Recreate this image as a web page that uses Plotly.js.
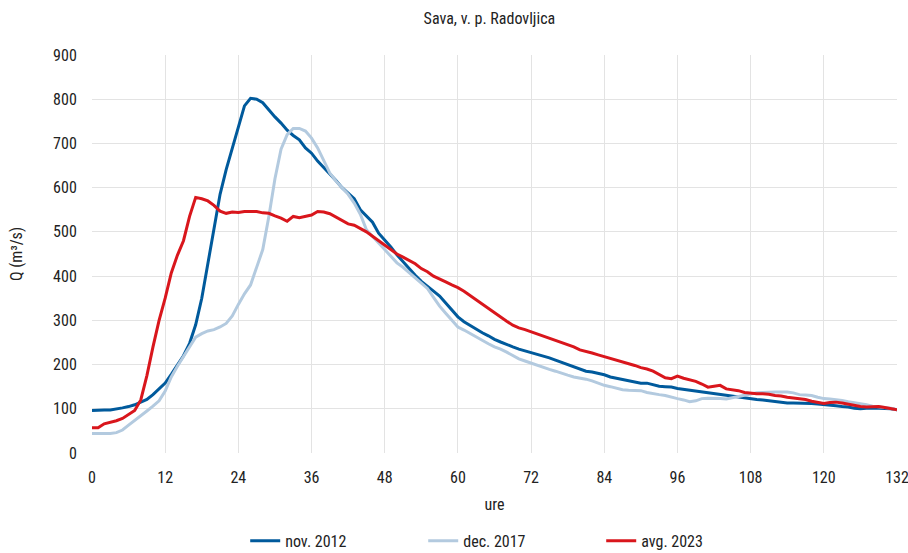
<!DOCTYPE html>
<html>
<head>
<meta charset="utf-8">
<script src="https://cdn.plot.ly/plotly-3.0.1.min.js"></script>
<style>
  html, body { margin: 0; padding: 0; background: #fff; }
  #chart { width: 908px; height: 553px; }
</style>
</head>
<body>
<div id="chart"></div>
<script>
// Hourly discharge (m³/s) at Sava, v. p. Radovljica for three flood events
const hours = Array.from({length: 133}, (_, i) => i);

const nov2012 = [
  96, 97, 97, 97, 99, 102, 105, 109, 115, 121, 132, 145, 158, 178, 200, 220, 248, 290, 350, 430,
  505, 585, 641, 690, 740, 785, 802, 800, 792, 775, 760, 746, 730, 718, 708, 690, 678, 660, 646, 632,
  616, 600, 588, 575, 550, 535, 522, 497, 482, 466, 448, 432, 416, 402, 388, 376, 366, 355, 340, 325,
  308, 297, 288, 280, 272, 265, 257, 251, 245, 240, 235, 231, 228, 224, 220, 215, 210, 205, 199, 194,
  189, 185, 183, 180, 177, 172, 169, 167, 163, 160, 158, 158, 155, 151, 150, 149, 146, 144, 142, 140,
  138, 136, 134, 133, 131, 129, 126, 124, 122, 121, 120, 118, 116, 114, 113, 113, 113, 112, 112, 111,
  110, 108, 107, 105, 104, 101, 100, 101, 102, 101, 101, 100, 98
];

const dec2017 = [
  44, 44, 44, 44, 46, 52, 63, 73, 84, 95, 106, 118, 140, 172, 196, 218, 240, 262, 270, 276,
  279, 285, 293, 310, 336, 360, 380, 418, 460, 535, 620, 687, 720, 734, 734, 728, 712, 690, 660, 633,
  615, 600, 585, 565, 540, 505, 490, 475, 458, 445, 430, 420, 408, 398, 386, 372, 352, 332, 316, 300,
  285, 278, 270, 263, 255, 247, 240, 235, 228, 220, 213, 208, 203, 199, 194, 189, 185, 180, 176, 172,
  170, 167, 163, 158, 153, 150, 147, 143, 142, 142, 141, 137, 134, 132, 130, 126, 123, 120, 116, 118,
  123, 124, 124, 123, 122, 125, 128, 131, 134, 136, 137, 138, 138, 138, 138, 136, 132, 131, 130, 126,
  123, 122, 121, 119, 116, 114, 112, 109, 106, 105, 103, 101, 98
];

const avg2023 = [
  57, 57, 66, 69, 73, 78, 88, 96, 120, 175, 240, 300, 350, 407, 447, 480, 535, 578, 575, 570,
  560, 547, 542, 545, 544, 546, 546, 546, 543, 542, 536, 531, 524, 535, 532, 535, 538, 546, 545, 541,
  533, 525, 518, 515, 508, 500, 490, 480, 470, 460, 450, 443, 436, 428, 417, 410, 400, 394, 387, 380,
  374, 366, 356, 346, 336, 327, 318, 308, 298, 289, 283, 279, 274, 269, 264, 260, 254, 250, 245, 240,
  233, 230, 226, 222, 218, 214, 211, 207, 203, 198, 193, 190, 185, 178, 170, 168, 174, 169, 165, 162,
  156, 149, 151, 153, 145, 143, 141, 137, 135, 134, 134, 133, 130, 129, 126, 124, 123, 121, 117, 114,
  112, 114, 115, 113, 110, 107, 105, 104, 104, 105, 103, 101, 98
];

const seriesNames = ['nov. 2012', 'dec. 2017', 'avg. 2023'];
const xTicks = [0, 12, 24, 36, 48, 60, 72, 84, 96, 108, 120, 132];
const yTicks = [0, 100, 200, 300, 400, 500, 600, 700, 800, 900];

const FONT = 'Roboto Condensed, Liberation Sans Narrow, Roboto, sans-serif';
const TXT = '#222222';
const FS = 16;

function line(name, y, color) {
  return {
    type: 'scatter', mode: 'lines', name: name,
    x: hours, y: y,
    line: {color: color, width: 3, shape: 'linear'},
    hoverinfo: 'skip'
  };
}

const traces = [
  line(seriesNames[0], nov2012, '#005a9c'),
  line(seriesNames[1], dec2017, '#b3cadf'),
  line(seriesNames[2], avg2023, '#d9161c')
];

const layout = {
  width: 908, height: 553,
  margin: {l: 92, r: 11, t: 55, b: 100},
  paper_bgcolor: '#fff', plot_bgcolor: '#fff',
  font: {family: FONT, size: FS, color: TXT},
  title: {text: 'Sava, v. p. Radovljica', x: 0.539, xanchor: 'center', y: 0.967, yanchor: 'middle',
          font: {family: FONT, size: FS, color: TXT}},
  xaxis: {
    range: [0, 132], tickvals: xTicks, ticktext: xTicks.map(String),
    showgrid: true, gridcolor: '#e3e3e3', gridwidth: 1,
    zeroline: false, showline: false,
    ticks: 'outside', ticklen: 10, tickcolor: 'rgba(0,0,0,0)',
    ticklabeloverflow: 'allow',
    automargin: false,
    tickfont: {size: FS, color: TXT},
    title: {text: 'ure', font: {size: FS, color: TXT}, standoff: 12}
  },
  yaxis: {
    range: [0, 900], tickvals: yTicks, ticktext: yTicks.map(String),
    showgrid: true, gridcolor: '#e3e3e3', gridwidth: 1,
    zeroline: false, showline: false,
    ticks: 'outside', ticklen: 11, tickcolor: 'rgba(0,0,0,0)',
    automargin: false,
    tickfont: {size: FS, color: TXT},
    title: {text: 'Q (m³/s)', font: {size: FS, color: TXT}, standoff: 26}
  },
  showlegend: true,
  legend: {
    orientation: 'h', x: 0.522, xanchor: 'center',
    yref: 'container', y: 0.022, yanchor: 'middle',
    entrywidth: 133, entrywidthmode: 'pixels',
    font: {size: FS, color: TXT}, bgcolor: 'rgba(0,0,0,0)'
  }
};

Plotly.newPlot('chart', traces, layout, {staticPlot: true, displayModeBar: false});
</script>
</body>
</html>
